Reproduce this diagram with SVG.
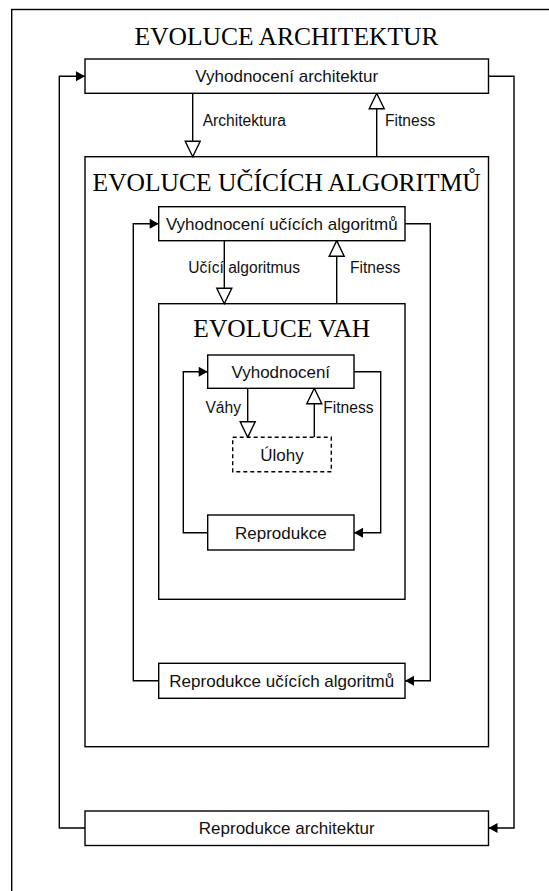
<svg xmlns="http://www.w3.org/2000/svg" width="549" height="891" viewBox="0 0 549 891">
<style>
.box{fill:#fff;stroke:#000;stroke-width:1.4}
.cont{fill:none;stroke:#000;stroke-width:1.4}
.dash{fill:#fff;stroke:#000;stroke-width:1.4;stroke-dasharray:4 3}
.ln{fill:none;stroke:#000;stroke-width:1.4}
.t{font-family:"Liberation Sans",Arial,sans-serif;font-size:17px;fill:#111;text-anchor:middle}
.lb{font-family:"Liberation Sans",Arial,sans-serif;font-size:15.6px;fill:#111}
.ti{font-family:"Liberation Serif","Times New Roman",serif;font-size:25.5px;fill:#000;text-anchor:middle}
</style>
<defs>
<marker id="fa" markerUnits="userSpaceOnUse" markerWidth="12" markerHeight="12" refX="9" refY="5" orient="auto" overflow="visible">
<path d="M0,0 L9,5 L0,10 Z" fill="#000"/>
</marker>
<marker id="ha" markerUnits="userSpaceOnUse" markerWidth="18" markerHeight="18" refX="15.5" refY="7.5" orient="auto" overflow="visible">
<path d="M0,0 L15.5,7.5 L0,15 Z" fill="#fff" stroke="#000" stroke-width="1.4"/>
</marker>
</defs>
<rect width="549" height="891" fill="#fff"/>
<g id="frame-architektur">
<rect class="cont" x="11.7" y="9.5" width="560" height="900"/>
<text class="ti" x="286.5" y="44.8">EVOLUCE ARCHITEKTUR</text>
</g>
<g id="frame-algoritmy">
<rect class="cont" x="85" y="156.7" width="403.5" height="590"/>
<text class="ti" x="286.7" y="190.7">EVOLUCE UČÍCÍCH ALGORITMŮ</text>
</g>
<g id="frame-vahy">
<rect class="cont" x="158.7" y="303.7" width="246.3" height="295.6"/>
<text class="ti" x="281.8" y="336.7">EVOLUCE VAH</text>
</g>
<g id="connectors">
<polyline class="ln" points="488.5,76.2 514,76.2 514,828 488.5,828" marker-end="url(#fa)"/>
<polyline class="ln" points="85,828 59.3,828 59.3,76.2 85,76.2" marker-end="url(#fa)"/>
<line class="ln" x1="192.7" y1="93.3" x2="192.7" y2="156.7" marker-end="url(#ha)"/>
<line class="ln" x1="376.7" y1="156.7" x2="376.7" y2="93.3" marker-end="url(#ha)"/>
<polyline class="ln" points="405,223.7 430.3,223.7 430.3,680.8 405,680.8" marker-end="url(#fa)"/>
<polyline class="ln" points="158.7,680.8 133.3,680.8 133.3,223.7 158.7,223.7" marker-end="url(#fa)"/>
<line class="ln" x1="224.3" y1="240.7" x2="224.3" y2="303.7" marker-end="url(#ha)"/>
<line class="ln" x1="336.7" y1="303.7" x2="336.7" y2="240.7" marker-end="url(#ha)"/>
<polyline class="ln" points="354,371.7 380.7,371.7 380.7,532.7 354,532.7" marker-end="url(#fa)"/>
<polyline class="ln" points="207.7,532.7 183.3,532.7 183.3,371.7 207.7,371.7" marker-end="url(#fa)"/>
<line class="ln" x1="247.7" y1="388.3" x2="247.7" y2="437.3" marker-end="url(#ha)"/>
<line class="ln" x1="314.3" y1="437.3" x2="314.3" y2="388.3" marker-end="url(#ha)"/>
<text class="lb" x="202.7" y="126">Architektura</text>
<text class="lb" x="385" y="126">Fitness</text>
<text class="lb" x="188.3" y="273">Učící algoritmus</text>
<text class="lb" x="350" y="273">Fitness</text>
<text class="lb" x="241" y="413.3" text-anchor="end">Váhy</text>
<text class="lb" x="323.3" y="413.3">Fitness</text>
</g>
<g id="vyhodnoceni-architektur">
<rect class="box" x="85" y="59" width="403.5" height="34.3"/>
<text class="t" x="286.7" y="82.2">Vyhodnocení architektur</text>
</g>
<g id="vyhodnoceni-algoritmu">
<rect class="box" x="158.7" y="206.7" width="246.3" height="34"/>
<text class="t" x="281.8" y="229.7">Vyhodnocení učících algoritmů</text>
</g>
<g id="vyhodnoceni">
<rect class="box" x="207.7" y="355" width="146.3" height="33.3"/>
<text class="t" x="280.8" y="377.7">Vyhodnocení</text>
</g>
<g id="ulohy">
<rect class="dash" x="232.7" y="437.3" width="98.6" height="34.4"/>
<text class="t" x="282" y="460.5">Úlohy</text>
</g>
<g id="reprodukce">
<rect class="box" x="207.7" y="515" width="146.3" height="35"/>
<text class="t" x="280.8" y="538.5">Reprodukce</text>
</g>
<g id="reprodukce-algoritmu">
<rect class="box" x="158.7" y="663.3" width="246.3" height="35"/>
<text class="t" x="281.8" y="686.8">Reprodukce učících algoritmů</text>
</g>
<g id="reprodukce-architektur">
<rect class="box" x="85" y="811" width="403.5" height="34.5"/>
<text class="t" x="286.7" y="834">Reprodukce architektur</text>
</g>
</svg>
